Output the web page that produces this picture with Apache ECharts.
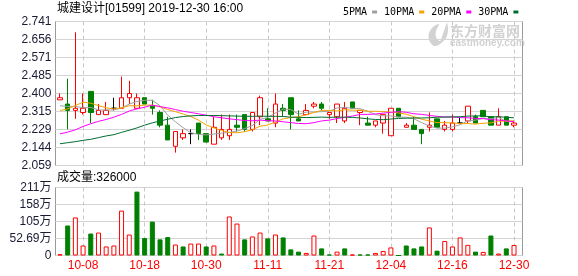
<!DOCTYPE html>
<html>
<head>
<meta charset="utf-8">
<script src="https://cdn.jsdelivr.net/npm/echarts@6/dist/echarts.min.js"></script>
<style>html,body{margin:0;padding:0;background:#fff;}#c{width:578px;height:276px;}</style>
</head>
<body>
<div id="c"></div>
<script>
const dates = ['10-02','10-03','10-04','10-08','10-09','10-10','10-11','10-14','10-15','10-16',
  '10-17','10-18','10-21','10-22','10-23','10-24','10-25','10-28','10-29','10-30',
  '10-31','11-01','11-04','11-05','11-06','11-07','11-08','11-11','11-12','11-13',
  '11-14','11-15','11-18','11-19','11-20','11-21','11-22','11-25','11-26','11-27',
  '11-28','12-02','12-03','12-04','12-05','12-06','12-09','12-10','12-11','12-12',
  '12-13','12-16','12-17','12-18','12-19','12-20','12-23','12-24','12-27','12-30'];
const opens = [2.37,2.35,2.32,2.31,2.41,2.30,2.30,2.33,2.33,2.38,
  2.33,2.38,2.34,2.31,2.25,2.15,2.19,2.21,2.26,2.21,
  2.16,2.19,2.20,2.25,2.30,2.23,2.29,2.28,2.26,2.33,
  2.38,2.28,2.30,2.34,2.35,2.30,2.29,2.27,2.36,2.31,
  2.26,2.25,2.26,2.20,2.33,2.24,2.25,2.23,2.24,2.28,
  2.23,2.23,2.26,2.27,2.29,2.32,2.29,2.25,2.29,2.25];
const closes = [2.38,2.32,2.33,2.33,2.31,2.32,2.32,2.33,2.38,2.40,
  2.38,2.35,2.33,2.25,2.18,2.22,2.21,2.21,2.21,2.17,
  2.24,2.23,2.23,2.24,2.23,2.31,2.38,2.27,2.35,2.32,
  2.30,2.27,2.32,2.35,2.33,2.31,2.35,2.33,2.33,2.32,
  2.25,2.27,2.30,2.33,2.29,2.25,2.23,2.21,2.25,2.24,
  2.25,2.26,2.26,2.34,2.26,2.29,2.25,2.29,2.25,2.26];
const lows = [2.37,2.23,2.28,2.30,2.26,2.30,2.30,2.32,2.33,2.35,
  2.33,2.35,2.30,2.24,2.18,2.12,2.18,2.16,2.18,2.17,
  2.16,2.18,2.18,2.22,2.22,2.22,2.25,2.27,2.24,2.29,
  2.23,2.27,2.30,2.33,2.32,2.28,2.26,2.26,2.33,2.25,
  2.25,2.24,2.21,2.20,2.29,2.24,2.23,2.16,2.22,2.24,
  2.22,2.22,2.26,2.26,2.26,2.29,2.25,2.25,2.25,2.24];
const highs = [2.40,2.47,2.69,2.40,2.41,2.35,2.36,2.38,2.48,2.46,
  2.40,2.38,2.37,2.32,2.29,2.22,2.23,2.23,2.26,2.21,
  2.29,2.30,2.30,2.30,2.30,2.31,2.39,2.33,2.40,2.35,
  2.38,2.32,2.35,2.36,2.36,2.31,2.35,2.36,2.36,2.32,
  2.29,2.27,2.30,2.33,2.33,2.26,2.29,2.23,2.31,2.28,
  2.27,2.30,2.29,2.34,2.30,2.32,2.29,2.33,2.29,2.27];
const volumes = [40000,930000,1180000,310000,680000,710000,280000,310000,1390000,650000,
  1980000,540000,1050000,500000,570000,340000,280000,370000,370000,280000,
  310000,60000,1210000,990000,500000,590000,710000,530000,650000,560000,
  190000,120000,80000,620000,220000,30000,120000,220000,30000,30000,
  30000,80000,140000,250000,0,310000,220000,280000,870000,150000,
  450000,280000,560000,330000,120000,110000,620000,60000,220000,326000];
const ma5 = [2.342,2.339,2.339,2.332,2.334,2.322,2.322,2.322,2.332,2.350,
  2.362,2.368,2.368,2.342,2.298,2.266,2.238,2.214,2.206,2.204,
  2.208,2.212,2.216,2.222,2.234,2.248,2.278,2.286,2.308,2.326,
  2.324,2.302,2.312,2.312,2.314,2.316,2.332,2.334,2.330,2.328,
  2.316,2.300,2.294,2.294,2.288,2.288,2.280,2.262,2.246,2.236,
  2.236,2.242,2.252,2.270,2.274,2.282,2.280,2.286,2.268,2.268];
const ma10 = [2.319,2.327,2.343,2.359,2.354,2.343,2.332,2.327,2.332,2.342,
  2.342,2.345,2.345,2.337,2.324,2.314,2.303,2.291,2.274,2.251,
  2.237,2.225,2.215,2.214,2.219,2.228,2.245,2.251,2.265,2.280,
  2.286,2.290,2.299,2.310,2.320,2.320,2.317,2.323,2.321,2.321,
  2.316,2.316,2.314,2.312,2.308,2.302,2.290,2.278,2.270,2.262,
  2.262,2.261,2.257,2.258,2.255,2.259,2.261,2.269,2.269,2.271];
const ma20 = [2.209,2.217,2.228,2.244,2.257,2.268,2.277,2.288,2.301,2.317,
  2.327,2.335,2.345,2.338,2.332,2.324,2.316,2.310,2.304,2.297,
  2.290,2.285,2.280,2.276,2.272,2.271,2.274,2.271,2.270,2.266,
  2.262,2.258,2.257,2.262,2.270,2.274,2.281,2.287,2.293,2.301,
  2.301,2.303,2.307,2.311,2.314,2.311,2.304,2.301,2.296,2.292,
  2.289,2.289,2.286,2.285,2.282,2.281,2.276,2.274,2.270,2.267];
const ma30 = [2.162,2.167,2.172,2.178,2.183,2.191,2.199,2.205,2.216,2.226,
  2.237,2.250,2.261,2.270,2.278,2.286,2.291,2.294,2.296,2.296,
  2.296,2.295,2.294,2.293,2.292,2.292,2.293,2.292,2.292,2.291,
  2.288,2.287,2.286,2.287,2.288,2.287,2.288,2.288,2.287,2.284,
  2.280,2.277,2.276,2.279,2.282,2.283,2.284,2.284,2.285,2.288,
  2.288,2.289,2.290,2.293,2.294,2.294,2.289,2.290,2.287,2.285];
const priceTicks = ['2.059','2.144','2.229','2.315','2.400','2.485','2.571','2.656','2.741'];
const volTicks = ['0','52.69万','105万','158万','211万'];
const priceMin = 2.059, priceMax = 2.741, priceStep = 0.08525;
const volMin = 0, volMax = 2107600, volStep = 526900;

const RED = '#ff0000', GREEN = '#008000';
const FONT = '"Liberation Sans", "Noto Sans CJK SC", sans-serif';
const showIdx = (i) => i % 8 === 3;

const candleData = dates.map((d, i) => [opens[i], closes[i], lows[i], highs[i]]);
const volData = volumes.map((v, i) => {
  const up = i === 0 || closes[i] >= closes[i - 1];
  return {
    value: v,
    itemStyle: up ? { color: '#ffffff', borderColor: RED, borderWidth: 1 }
                  : { color: GREEN, borderColor: GREEN, borderWidth: 1 }
  };
});

const chart = echarts.init(document.getElementById('c'), null, { renderer: 'canvas' });
const maLine = (name, data, color) => ({
  name, type: 'line', data, xAxisIndex: 1, yAxisIndex: 1,
  symbol: 'none', showSymbol: false, smooth: false, z: 4, clip: false,
  itemStyle: { color }, lineStyle: { color, width: 1 }
});

chart.setOption({
  animation: false,
  backgroundColor: '#ffffff',
  legend: {
    left: 338, top: 2, align: 'right', icon: 'rect',
    itemWidth: 5, itemHeight: 3, itemGap: 7,
    textStyle: { fontFamily: '"DejaVu Sans Mono", monospace', fontSize: 10, color: '#000' },
    data: ['5PMA', '10PMA', '20PMA', '30PMA']
  },
  grid: [
    { left: 55.5, top: 21.5, width: 467, height: 144, show: true, borderColor: '#999', borderWidth: 1, backgroundColor: 'transparent' },
    { left: 60, top: 21.5, width: 454, height: 144 },
    { left: 55.5, top: 187.5, width: 467, height: 68, show: true, borderColor: '#999', borderWidth: 1, backgroundColor: 'transparent' },
    { left: 60, top: 187.5, width: 454, height: 68 }
  ],
  xAxis: [
    { gridIndex: 0, type: 'value', min: 0, max: 1, show: false },
    { gridIndex: 1, type: 'category', data: dates, boundaryGap: false,
      axisLine: { show: false }, axisTick: { show: false }, axisLabel: { show: false },
      splitLine: { show: true, interval: showIdx, lineStyle: { color: '#c8c8c8', type: [4, 3], width: 1 } } },
    { gridIndex: 2, type: 'value', min: 0, max: 1, show: false },
    { gridIndex: 3, type: 'category', data: dates, boundaryGap: false,
      axisLine: { show: false }, axisTick: { show: false },
      axisLabel: { show: true, interval: showIdx, color: RED, margin: 4, fontSize: 12, fontFamily: FONT },
      splitLine: { show: true, interval: showIdx, lineStyle: { color: '#c8c8c8', type: [4, 3], width: 1 } } }
  ],
  yAxis: [
    { gridIndex: 0, type: 'value', min: priceMin, max: priceMax, interval: priceStep,
      axisLine: { show: false }, axisTick: { show: false },
      axisLabel: { margin: 4, color: '#1a1a33', fontSize: 12, fontFamily: FONT,
        formatter: (v) => priceTicks[Math.round((v - priceMin) / priceStep)] },
      splitLine: { lineStyle: { color: '#d4d4d4', width: 1 } } },
    { gridIndex: 1, type: 'value', min: priceMin, max: priceMax, show: false },
    { gridIndex: 2, type: 'value', min: volMin, max: volMax, interval: volStep,
      axisLine: { show: false }, axisTick: { show: false },
      axisLabel: { margin: 4, color: '#1a1a33', fontSize: 12, fontFamily: FONT,
        formatter: (v) => volTicks[Math.round((v - volMin) / volStep)] },
      splitLine: { lineStyle: { color: '#d4d4d4', width: 1 } } },
    { gridIndex: 3, type: 'value', min: volMin, max: volMax, show: false }
  ],
  graphic: [
    { type: 'text', x: 57, y: 9, z: 10,
      style: { text: '城建设计[01599] 2019-12-30 16:00', font: '12px ' + FONT, fill: '#000', verticalAlign: 'middle' } },
    { type: 'text', x: 57, y: 178, z: 10,
      style: { text: '成交量:' + volumes[volumes.length - 1], font: '12px ' + FONT, fill: '#000', verticalAlign: 'middle' } },
    { type: 'text', x: 450, y: 31, z: 0,
      style: { text: '东方财富网', font: 'bold 14px "Noto Sans CJK SC", sans-serif', fill: '#d2d2d2', verticalAlign: 'middle' } },
    { type: 'text', x: 450, y: 43, z: 0,
      style: { text: 'eastmoney.com', font: 'bold 10px "Liberation Sans", sans-serif', fill: '#d2d2d2', verticalAlign: 'middle' } },
    { type: 'polygon', z: 0,
      shape: { points: [[434,46],[429,40],[429,33],[433,27],[439,24],[436,31],[436,37],[440,41],[443,34],[445,28],[447,23],[448,30],[446,38],[440,44]], smooth: 0.3 },
      style: { fill: '#d2d2d2' } }
  ],
  series: [
    { name: 'K', type: 'candlestick', data: candleData, xAxisIndex: 1, yAxisIndex: 1,
      barWidth: 5, clip: false, z: 3,
      itemStyle: { color: '#ffffff', color0: GREEN, borderColor: RED, borderColor0: GREEN,
        borderColorDoji: '#000000', borderWidth: 1 } },
    maLine('5PMA', ma5, '#a0a0a0'),
    maLine('10PMA', ma10, '#f5a300'),
    maLine('20PMA', ma20, '#ff00ff'),
    maLine('30PMA', ma30, '#006e33'),
    { name: 'VOL', type: 'bar', data: volData, xAxisIndex: 3, yAxisIndex: 3,
      barWidth: 5, clip: false, z: 3 }
  ]
});
</script>
</body>
</html>
